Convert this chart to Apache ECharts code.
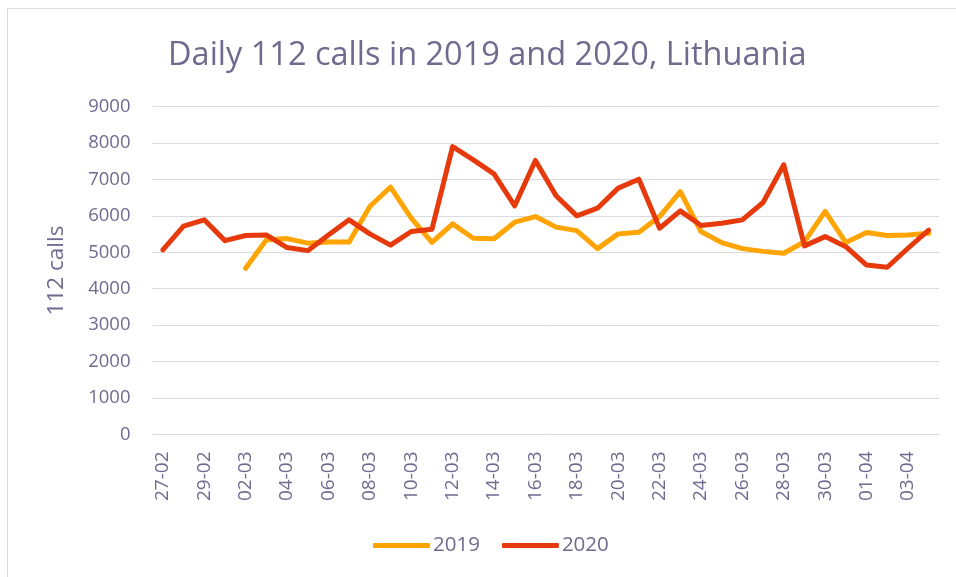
<!DOCTYPE html>
<html>
<head>
<meta charset="utf-8">
<script src="https://cdn.jsdelivr.net/npm/echarts@6/dist/echarts.min.js"></script>
<style>
  html, body { margin: 0; padding: 0; background: #fff; }
  #chart { width: 956px; height: 577px; }
</style>
</head>
<body>
<div id="chart"></div>
<script>
// dates, 27 Feb - 04 Apr
const dates = [
  '27-02', '28-02', '29-02', '01-03', '02-03', '03-03', '04-03', '05-03', '06-03', '07-03',
  '08-03', '09-03', '10-03', '11-03', '12-03', '13-03', '14-03', '15-03', '16-03', '17-03',
  '18-03', '19-03', '20-03', '21-03', '22-03', '23-03', '24-03', '25-03', '26-03', '27-03',
  '28-03', '29-03', '30-03', '31-03', '01-04', '02-04', '03-04', '04-04',
];

// 2019 has no values before 02-03
const calls2019 = [
  null, null, null, null, 4560, 5340, 5375, 5250, 5285, 5285,
  6255, 6790, 5940, 5270, 5780, 5385, 5370, 5825, 5980, 5690,
  5595, 5100, 5505, 5550, 5980, 6665, 5570, 5265, 5100, 5025,
  4975, 5290, 6120, 5265, 5540, 5460, 5475, 5520,
];

const calls2020 = [
  5065, 5720, 5890, 5320, 5460, 5475, 5130, 5045, 5475, 5890,
  5505, 5195, 5570, 5630, 7900, 7535, 7150, 6275, 7520, 6550,
  6000, 6210, 6760, 7005, 5660, 6135, 5735, 5795, 5890, 6365,
  7400, 5175, 5430, 5155, 4650, 4590, 5110, 5610,
];

const yTicks = [0, 1000, 2000, 3000, 4000, 5000, 6000, 7000, 8000, 9000];

const TEXT = '#6e6b8f';
const GRID = '#d9d9e0';
const FONT = '"Open Sans", "Noto Sans", sans-serif';

const chart = echarts.init(document.getElementById('chart'), null, { renderer: 'canvas' });

chart.setOption({
  animation: false,
  textStyle: { fontFamily: FONT, color: TEXT },
  title: {
    text: 'Daily 112 calls in 2019 and 2020, Lithuania',
    left: 163,
    top: 34,
    textStyle: { fontFamily: FONT, fontSize: 32.5, fontWeight: 'normal', color: TEXT },
  },
  graphic: [
    { type: 'line', shape: { x1: 7.5, y1: 8, x2: 7.5, y2: 577 }, style: { stroke: GRID, lineWidth: 1 } },
    { type: 'line', shape: { x1: 7.5, y1: 8.5, x2: 956, y2: 8.5 }, style: { stroke: GRID, lineWidth: 1 } },
  ],
  legend: {
    data: ['2019', '2020'],
    bottom: 16,
    left: 368,
    icon: 'roundRect',
    itemWidth: 57,
    itemHeight: 5,
    itemGap: 22,
    textStyle: { fontFamily: FONT, fontSize: 20.5, color: TEXT, padding: [0, 0, 0, -2] },
  },
  grid: { left: 152.5, right: 17, top: 106.5, bottom: 142.5, containLabel: false },
  xAxis: {
    type: 'category',
    data: dates,
    boundaryGap: true,
    axisLine: { show: true, lineStyle: { color: GRID, width: 1 } },
    axisTick: { show: false },
    axisLabel: {
      interval: 1,
      rotate: 90,
      margin: 17,
      fontSize: 19,
      color: TEXT,
      fontFamily: FONT,
    },
  },
  yAxis: {
    type: 'value',
    min: yTicks[0],
    max: yTicks[yTicks.length - 1],
    interval: 1000,
    name: '112 calls',
    nameLocation: 'middle',
    nameGap: 84,
    nameTextStyle: { fontFamily: FONT, fontSize: 22.5, color: TEXT },
    axisLine: { show: false },
    axisTick: { show: false },
    axisLabel: {
      fontSize: 18.5,
      color: TEXT,
      margin: 22,
      fontFamily: FONT,
      formatter: (v) => String(v),
    },
    splitLine: { show: true, lineStyle: { color: GRID, width: 1 } },
  },
  series: [
    {
      name: '2019',
      type: 'line',
      data: calls2019,
      showSymbol: false,
      connectNulls: false,
      lineStyle: { width: 5, color: '#ffa400', cap: 'round', join: 'round' },
      itemStyle: { color: '#ffa400' },
    },
    {
      name: '2020',
      type: 'line',
      data: calls2020,
      showSymbol: false,
      lineStyle: { width: 5, color: '#e6390c', cap: 'round', join: 'round' },
      itemStyle: { color: '#e6390c' },
    },
  ],
});
</script>
</body>
</html>
